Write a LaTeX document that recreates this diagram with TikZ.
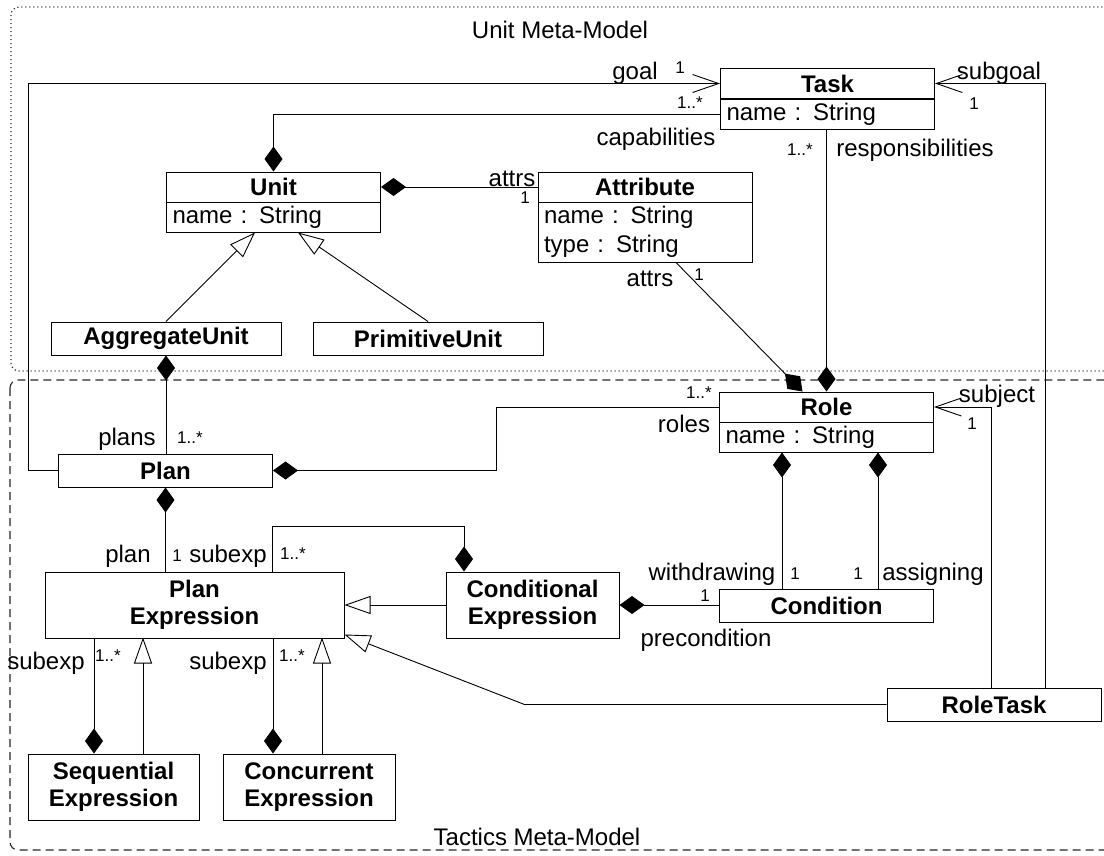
\documentclass[tikz,border=0pt]{standalone}
\usepackage{fontspec}
\setmainfont{Liberation Sans}
\usetikzlibrary{arrows.meta,positioning}
\tikzstyle{class box}=[draw=black, line width=1pt, font=\fontsize{24}{27}\selectfont\bfseries,
        align=center, inner sep=0pt, minimum width=214pt, minimum height=30pt]
\tikzstyle{attr box}=[draw=black, line width=1pt, font=\fontsize{24}{29}\selectfont,
        align=left, text width=202pt, inner xsep=6pt, inner ysep=0pt, minimum height=30pt]
\tikzstyle{role label}=[font=\fontsize{24}{28}\selectfont, inner sep=0pt]
\tikzstyle{mult label}=[font=\fontsize{17}{20}\selectfont, inner sep=0pt]
\tikzstyle{package frame}=[draw=black!85, line width=1.1pt, rounded corners=8pt]
\tikzstyle{link}=[-, draw=black, line width=0.9pt]
\tikzstyle{owned link}=[link, arrows={Diamond[length=25pt,width=18pt]-}]
\tikzstyle{nav link}=[link, arrows={-Straight Barb[length=26pt,width=18pt]}]
\tikzstyle{gen link}=[link, arrows={-Triangle[open,length=26pt,width=18pt]}]

\begin{document}
\begin{tikzpicture}[x=1pt, y=-1pt]
            \useasboundingbox (0, 0) rectangle (1104, 855);
            \draw [style=package frame, dash pattern=on 1.2pt off 2.8pt] (11, 7) rectangle (1130, 371);
            \draw [style=package frame, dash pattern=on 8pt off 5pt] (10, 380) rectangle (1130, 850);
            \node [style=role label] (17) at (560, 30) {Unit Meta-Model};
            \node [style=role label] (18) at (537, 837) {Tactics Meta-Model};

            \node [style=class box] (0) at (827.5, 83.5) {Task};
            \node [style=attr box] (1) at (827.5, 114) {name : String};
            \node [style=class box] (2) at (273.5, 187) {Unit};
            \node [style=attr box] (3) at (273.5, 217) {name : String};
            \node [style=class box] (4) at (645, 187) {Attribute};
            \node [style=attr box, minimum height=60pt] (5) at (645, 232) {name : String\\type : String};
            \node [style=class box, minimum width=230pt, minimum height=33pt] (6) at (166, 338.5) {AggregateUnit};
            \node [style=class box, minimum width=230pt, minimum height=33pt] (7) at (428, 338.5) {PrimitiveUnit};
            \node [style=class box] (8) at (826.5, 407) {Role};
            \node [style=attr box] (9) at (826.5, 437) {name : String};
            \node [style=class box, minimum height=33pt] (10) at (165.5, 470.5) {Plan};
            \node [style=class box, minimum width=299pt, minimum height=66pt] (11) at (194.5, 605) {Plan\\Expression};
            \node [style=class box, minimum width=173pt, minimum height=66pt] (12) at (532.5, 605) {Conditional\\Expression};
            \node [style=class box, minimum height=33pt] (13) at (826.5, 605.5) {Condition};
            \node [style=class box, minimum height=33pt] (14) at (994, 704.5) {RoleTask};
            \node [style=class box, minimum width=171pt, minimum height=66pt] (15) at (113.5, 787) {Sequential\\Expression};
            \node [style=class box, minimum width=172pt, minimum height=66pt] (16) at (309, 787) {Concurrent\\Expression};

            \draw [style=nav link] (10.west) -- ++(-30, 0) |- (0.west);
            \draw [style=owned link] (2.north) |- (1.west);
            \draw [style=owned link] (8.north) -- (8.north |- 1.south);
            \draw [style=nav link] ([xshift=51pt]14.north) |- (0.east);
            \draw [style=nav link] ([xshift=-3pt]14.north) |- (8.east);
            \draw [style=owned link] (2.east) -- (4.west);
            \draw [style=owned link] ([xshift=-24pt]8.north) -- ([xshift=31pt]5.south);
            \draw [style=gen link] (6.north) -- ([xshift=-18.5pt]3.south);
            \draw [style=gen link] (7.north) -- ([xshift=24.5pt]3.south);
            \draw [style=owned link] (6.south) -- (6.south |- 10.north);
            \draw [style=owned link] (10.east) -- ++(223, 0) |- (8.west);
            \draw [style=owned link] (10.south) -- (10.south |- 11.north);
            \draw [style=owned link] ([xshift=-68.5pt]12.north) -- ++(0, -45) -| ([xshift=77.5pt]11.north);
            \draw [style=gen link] (12.west) -- (11.east);
            \draw [style=owned link] (12.east) -- (12.east -| 13.west);
            \draw [style=owned link] ([xshift=-44.5pt]9.south) -- ([xshift=-44.5pt]13.north);
            \draw [style=owned link] ([xshift=51.5pt]9.south) -- ([xshift=51.5pt]13.north);
            \draw [style=gen link] (14.west) -- ++(-362, 0) -- ([yshift=4pt]11.south east);
            \draw [style=owned link] ([xshift=-19.5pt]15.north) -- ++(0, -116);
            \draw [style=gen link] ([xshift=29.5pt]15.north) -- ++(0, -116);
            \draw [style=owned link] ([xshift=-36pt]16.north) -- ++(0, -116);
            \draw [style=gen link] ([xshift=13pt]16.north) -- ++(0, -116);

            \node [style=role label] (20) at (635, 73) {goal};
            \node [style=mult label] (21) at (680, 68) {1};
            \node [style=mult label] (22) at (690, 103) {1..*};
            \node [style=role label] (23) at (656, 139) {capabilities};
            \node [style=mult label] (24) at (800, 150) {1..*};
            \node [style=role label] (25) at (915, 150) {responsibilities};
            \node [style=role label] (26) at (999, 73) {subgoal};
            \node [style=mult label] (27) at (974, 104) {1};
            \node [style=role label] (28) at (512, 179) {attrs};
            \node [style=mult label] (29) at (525, 198) {1};
            \node [style=role label] (30) at (650, 279) {attrs};
            \node [style=mult label] (31) at (699, 275) {1};
            \node [style=role label] (32) at (127, 439) {plans};
            \node [style=mult label] (33) at (190, 438) {1..*};
            \node [style=mult label] (34) at (699, 393) {1..*};
            \node [style=role label] (35) at (684, 424) {roles};
            \node [style=role label] (36) at (997, 396) {subject};
            \node [style=mult label] (37) at (972, 424) {1};
            \node [style=role label] (38) at (128, 556) {plan};
            \node [style=mult label] (39) at (177, 556) {1};
            \node [style=role label] (40) at (228, 556) {subexp};
            \node [style=mult label] (41) at (293, 554) {1..*};
            \node [style=role label] (42) at (712, 574) {withdrawing};
            \node [style=mult label] (43) at (795, 574) {1};
            \node [style=mult label] (44) at (858, 574) {1};
            \node [style=role label] (45) at (933, 574) {assigning};
            \node [style=mult label] (46) at (705, 596) {1};
            \node [style=role label] (47) at (706, 640) {precondition};
            \node [style=role label] (48) at (46, 663) {subexp};
            \node [style=mult label] (49) at (108, 656) {1..*};
            \node [style=role label] (50) at (228, 663) {subexp};
            \node [style=mult label] (51) at (292, 656) {1..*};
\end{tikzpicture}
\end{document}
